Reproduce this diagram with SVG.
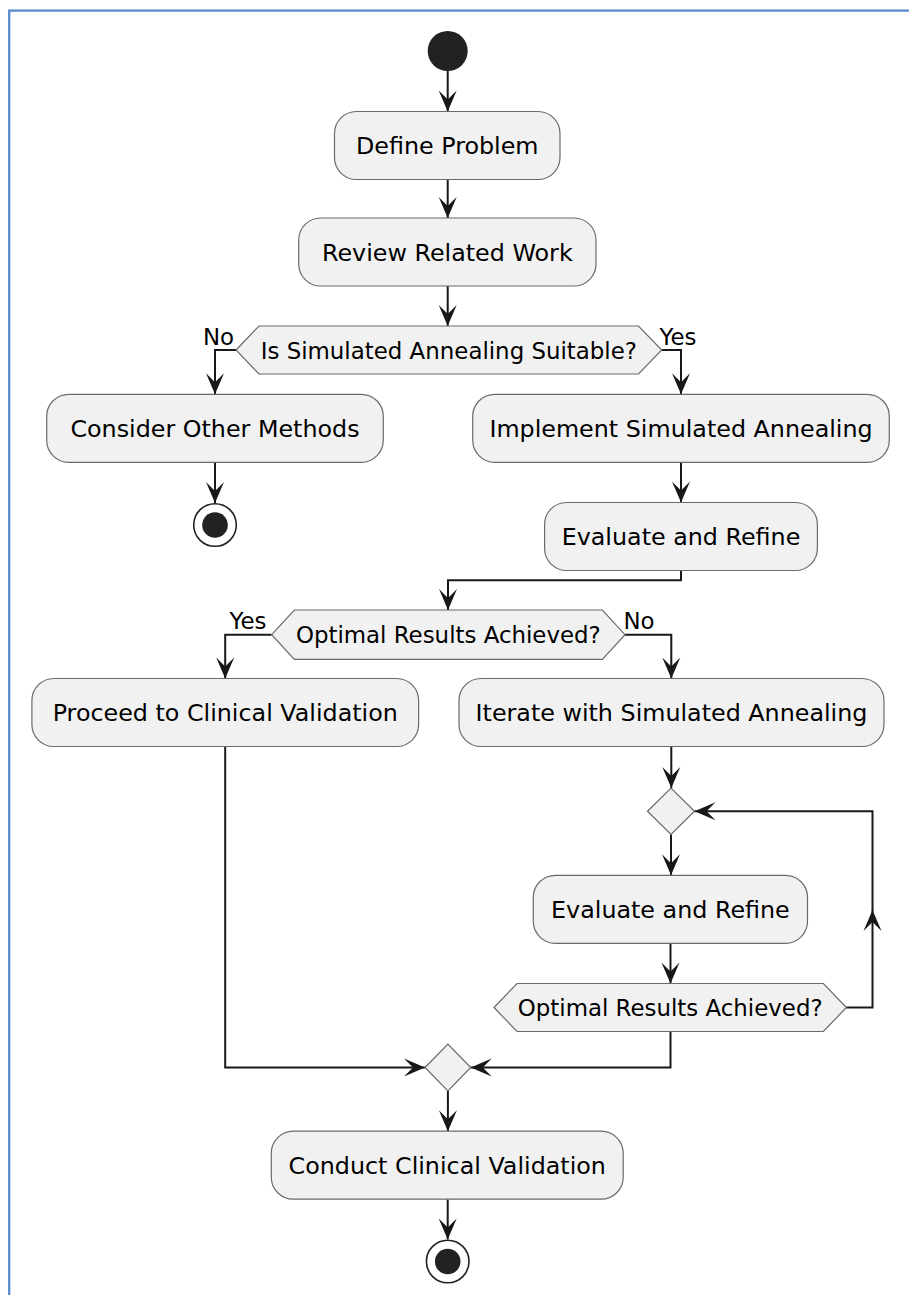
<svg xmlns="http://www.w3.org/2000/svg" width="909" height="1295" viewBox="0 0 909 1295">
<style>
.box{fill:#F1F1F1;stroke:#6a6a6a;stroke-width:1.2}
.t{font-family:"DejaVu Sans",sans-serif;font-size:23.8px;fill:#000;text-anchor:middle}
.d{font-family:"DejaVu Sans",sans-serif;font-size:22.9px;fill:#000;text-anchor:middle}
.lbl{font-family:"DejaVu Sans",sans-serif;font-size:22.9px;fill:#000}
.c{fill:none;stroke:#181818;stroke-width:2;marker-end:url(#ah)}
.cn{fill:none;stroke:#181818;stroke-width:2}
</style>
<defs>
<marker id="ah" markerUnits="userSpaceOnUse" viewBox="-23 -11 24 22" markerWidth="24" markerHeight="22" refX="0" refY="0" orient="auto">
<path d="M0,0 L-21,-9 L-12,0 L-21,9 Z" fill="#181818"/>
</marker>
</defs>
<rect width="909" height="1295" fill="#fff"/>
<rect x="9.2" y="10.6" width="930" height="1320" fill="none" stroke="#5a8bcf" stroke-width="2.3"/>

<g id="connectors">
<path class="c" d="M447.7,71 V111.5"/>
<path class="c" d="M447.7,179.5 V218"/>
<path class="c" d="M447.7,286 V326"/>
<path class="c" d="M236,350 H215 V394.3"/>
<path class="c" d="M661.7,350 H681 V394.3"/>
<path class="c" d="M215,462.3 V503"/>
<path class="c" d="M681,462.3 V502.5"/>
<path class="c" d="M681,570.5 V580.3 H448 V610"/>
<path class="c" d="M271.7,634.7 H225.2 V678.5"/>
<path class="c" d="M625,634.7 H671.3 V678.5"/>
<path class="c" d="M671.3,746.5 V788"/>
<path class="c" d="M671,834.5 V875.3"/>
<path class="c" d="M670.5,943.3 V983.5"/>
<path class="c" d="M846.4,1007.5 H872.5 V910"/>
<path class="c" d="M872.5,911 V811.2 H694.5"/>
<path class="c" d="M670.5,1031.5 V1067.5 H470.7"/>
<path class="c" d="M225.2,746.5 V1067.5 H425"/>
<path class="c" d="M447.9,1091 V1131.2"/>
<path class="c" d="M447.7,1199.2 V1239.4"/>
</g>

<g id="start"><circle cx="447.7" cy="51" r="20" fill="#222"/></g>

<g id="define"><rect class="box" x="334.5" y="111.5" width="225.5" height="68" rx="22"/><text class="t" x="447.25" y="154">Define Problem</text></g>

<g id="review"><rect class="box" x="298.7" y="218" width="297.3" height="68" rx="22"/><text class="t" x="447.35" y="260.5">Review Related Work</text></g>

<g id="dec1"><polygon class="box" points="236,350 259,326 638.5,326 661.7,350 638.5,374 259,374"/><text class="d" x="448.85" y="358.8">Is Simulated Annealing Suitable?</text>
<text class="lbl" x="203" y="345">No</text><text class="lbl" x="659.5" y="345">Yes</text></g>

<g id="consider"><rect class="box" x="46.7" y="394.3" width="336.6" height="68" rx="22"/><text class="t" x="215" y="436.8">Consider Other Methods</text></g>

<g id="end1"><circle cx="215" cy="525" r="21.3" fill="#fff" stroke="#222" stroke-width="1.6"/><circle cx="215" cy="525" r="12.8" fill="#222"/></g>

<g id="implement"><rect class="box" x="472.7" y="394.3" width="416.6" height="68" rx="22"/><text class="t" x="681" y="436.8">Implement Simulated Annealing</text></g>

<g id="eval1"><rect class="box" x="544.6" y="502.5" width="272.8" height="68" rx="22"/><text class="t" x="681" y="545">Evaluate and Refine</text></g>

<g id="dec2"><polygon class="box" points="271.7,634.7 294.3,610 602.4,610 625,634.7 602.4,659.3 294.3,659.3"/><text class="d" x="448.35" y="643.4">Optimal Results Achieved?</text>
<text class="lbl" x="229.5" y="629.3">Yes</text><text class="lbl" x="623.5" y="629.3">No</text></g>

<g id="proceed"><rect class="box" x="31.9" y="678.5" width="386.7" height="68" rx="22"/><text class="t" x="225.25" y="721">Proceed to Clinical Validation</text></g>

<g id="iterate"><rect class="box" x="459" y="678.5" width="425" height="68" rx="22"/><text class="t" x="671.5" y="721">Iterate with Simulated Annealing</text></g>

<g id="merge1"><polygon class="box" points="647.5,811.2 671,788 694.5,811.2 671,834.5"/></g>

<g id="eval2"><rect class="box" x="533.3" y="875.3" width="274.2" height="68" rx="22"/><text class="t" x="670.4" y="917.8">Evaluate and Refine</text></g>

<g id="dec3"><polygon class="box" points="494,1007.5 517,983.5 823.4,983.5 846.4,1007.5 823.4,1031.5 517,1031.5"/><text class="d" x="670.2" y="1016.3">Optimal Results Achieved?</text></g>

<g id="merge2"><polygon class="box" points="425,1067.5 447.9,1044 470.7,1067.5 447.9,1091"/></g>

<g id="conduct"><rect class="box" x="271.3" y="1131.2" width="351.9" height="68" rx="22"/><text class="t" x="447.25" y="1173.7">Conduct Clinical Validation</text></g>

<g id="end2"><circle cx="447.7" cy="1261.5" r="21.3" fill="#fff" stroke="#222" stroke-width="1.6"/><circle cx="447.7" cy="1261.5" r="12.8" fill="#222"/></g>
</svg>
